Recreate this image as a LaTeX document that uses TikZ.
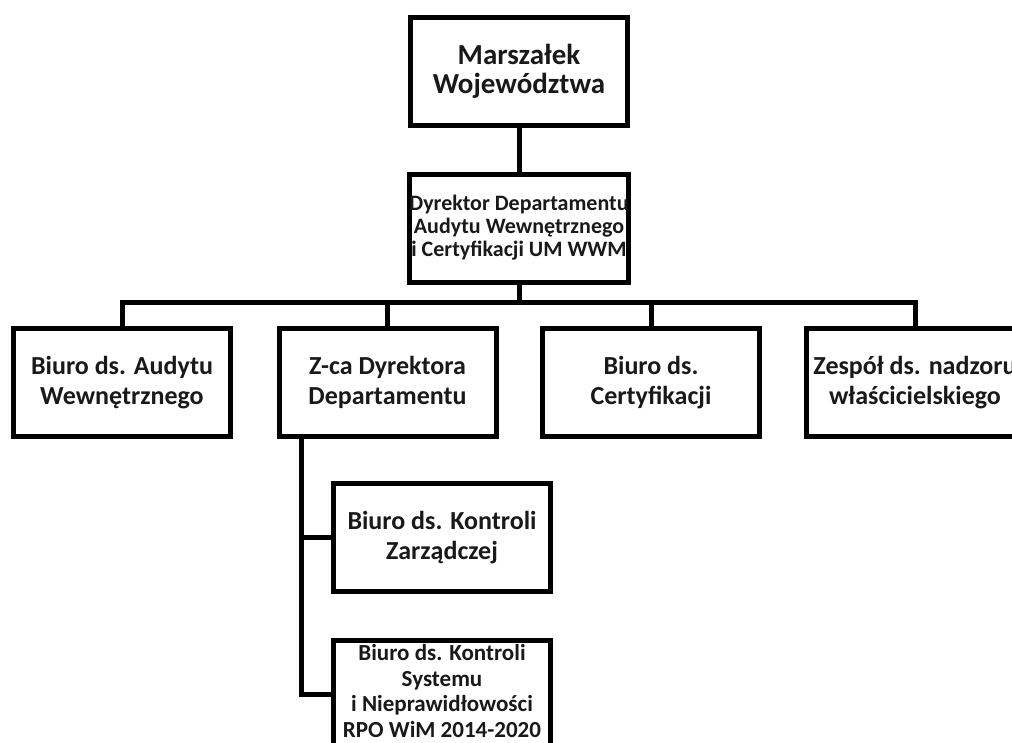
\documentclass[tikz,border=0pt]{standalone}
\usepackage{fontspec}
\setmainfont{Carlito}
\usetikzlibrary{positioning}

\begin{document}
\begin{tikzpicture}[x=1pt,y=-1pt,
  box/.style={draw=black,line width=5pt,fill=white,minimum width=217pt,minimum height=108pt,
    align=center,text=black!90,font=\bfseries\fontsize{26}{30}\selectfont,inner sep=0pt},
  conn/.style={line width=5pt,line cap=rect}]
\clip (0,0) rectangle (1012,742);

\node[box,font=\bfseries\fontsize{29}{29}\selectfont] (marsz) at (519,71) {Marszałek\\Województwa};
\node[box,font=\bfseries\fontsize{22}{23}\selectfont] (dyr) at (519,228) {Dyrektor Departamentu\\Audytu Wewnętrznego\\i Certyfikacji UM WWM};

\node[box] (audyt) at (122,382.5) {Biuro ds. Audytu\\Wewnętrznego};
\node[box] (zca) at (387.5,382.5) {Z-ca Dyrektora\\Departamentu};
\node[box] (cert) at (651,382.5) {Biuro ds.\\Certyfikacji};
\node[box] (zesp) at (915,382.5) {Zespół ds. nadzoru\\właścicielskiego};

\node[box] (kontr) at (442,537.5) {Biuro ds. Kontroli\\Zarządczej};
\node[box,font=\bfseries\fontsize{23}{25.5}\selectfont,text depth=6pt] (rpo) at (442,694) {Biuro ds. Kontroli\\Systemu\\i Nieprawidłowości\\RPO WiM 2014-2020};

\coordinate (bar) at (519,302);
\coordinate (spine) at (301,438);

\draw[conn] (marsz.south) -- (dyr.north);
\draw[conn] (dyr.south) -- (dyr.south |- bar);
\draw[conn] (audyt.north) -- (audyt.north |- bar) -- (zesp.north |- bar) -- (zesp.north);
\draw[conn] (zca.north) -- (zca.north |- bar);
\draw[conn] (cert.north) -- (cert.north |- bar);

\draw[conn] (zca.south -| spine) -- (spine |- rpo.west) -- (rpo.west);
\draw[conn] (spine |- kontr.west) -- (kontr.west);

\end{tikzpicture}
\end{document}
